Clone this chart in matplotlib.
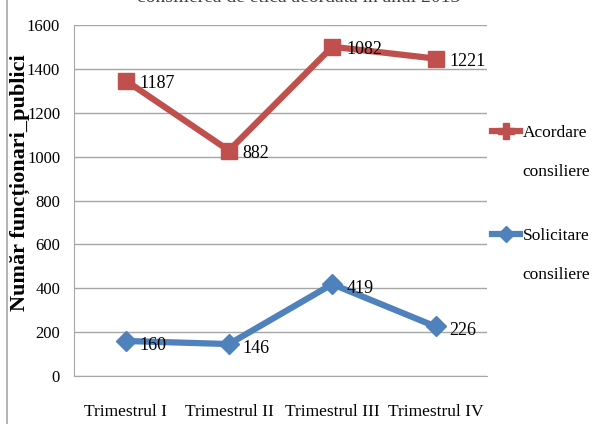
import matplotlib
matplotlib.use('Agg')
import matplotlib.pyplot as plt
from matplotlib.lines import Line2D

# date
trimestre = ['Trimestrul I', 'Trimestrul II', 'Trimestrul III', 'Trimestrul IV']
solicitare = [160, 146, 419, 226]
acordare = [1187, 882, 1082, 1221]
y_ticks = [0, 200, 400, 600, 800, 1000, 1200, 1400, 1600]

rosu = '#C0504D'
albastru = '#4F81BD'
plt.rcParams['font.family'] = ['Liberation Serif', 'DejaVu Serif']

fig = plt.figure(figsize=(5.92, 4.24), dpi=100)
ax = fig.add_axes([0.125, 0.113, 0.698, 0.828])

x = list(range(len(trimestre)))
# grafic cu linii stivuite
acordare_stivuit = [a + s for a, s in zip(acordare, solicitare)]

ax.plot(x, acordare_stivuit, color=rosu, linewidth=4.5, marker='s', markersize=11,
        solid_joinstyle='miter', zorder=3)
ax.plot(x, solicitare, color=albastru, linewidth=4.5, marker='D', markersize=10,
        solid_joinstyle='miter', zorder=3)

for i in x:
    ax.annotate(str(acordare[i]), (i, acordare_stivuit[i]), xytext=(10, -2),
                textcoords='offset points', ha='left', va='center', fontsize=13)
    ax.annotate(str(solicitare[i]), (i, solicitare[i]), xytext=(10, -3),
                textcoords='offset points', ha='left', va='center', fontsize=13)

ax.set_xlim(-0.5, 3.5)
ax.set_ylim(0, 1600)
ax.set_yticks(y_ticks)
ax.set_xticks(x)
ax.set_xticklabels(trimestre, fontsize=12.5)
ax.tick_params(axis='y', labelsize=12, length=0, pad=10)
ax.tick_params(axis='x', length=0, pad=20)
ax.yaxis.grid(True, color='#A6A6A6', linewidth=1)
ax.set_axisbelow(True)
for s in ['top', 'right']:
    ax.spines[s].set_visible(False)
ax.spines['left'].set_color('#A6A6A6')
ax.spines['bottom'].set_color('#A6A6A6')

fig.text(0.034, 0.57, 'Număr funcționari_publici', rotation=90, ha='center', va='center',
         fontsize=16, fontweight='bold')
fig.text(0.505, 1 - 2 / 424, 'consilierea de etică acordată în anul 2013', ha='center',
         va='baseline', fontsize=14, color='#404040')

# legenda
handles = [Line2D([], [], color=rosu, linewidth=4.5, marker='P', markersize=11),
           Line2D([], [], color=albastru, linewidth=4.5, marker='D', markersize=8)]
leg = fig.legend(handles, ['Acordare', 'Solicitare'], loc='upper left',
                 bbox_to_anchor=(492 / 592, 1 - 125 / 424), frameon=False, fontsize=12.5,
                 handlelength=1.6, handletextpad=0.15, labelspacing=5.0,
                 borderaxespad=0, borderpad=0)

fig.canvas.draw()
for t in leg.get_texts():
    bb = t.get_window_extent()
    fig.text(bb.x0 / 592, (bb.y0 - 39) / 424, 'consiliere', fontsize=12.5, ha='left', va='bottom')

# rama graficului
fig.add_artist(Line2D([0.012, 0.012], [0, 1], transform=fig.transFigure, color='#A6A6A6', linewidth=1.2))

fig.savefig('out.png', dpi=100)
